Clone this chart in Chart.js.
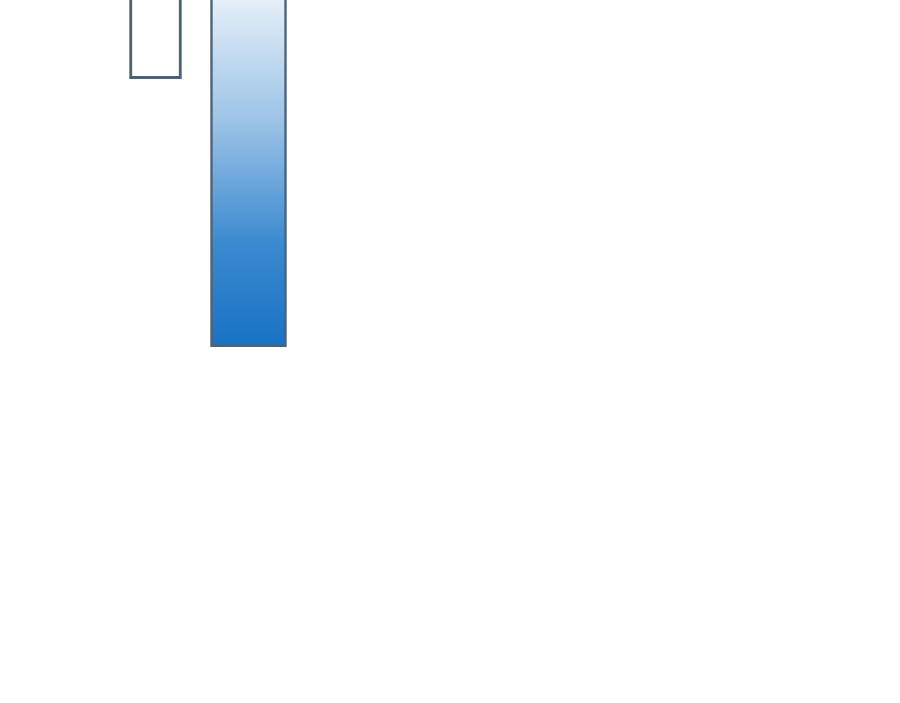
<!DOCTYPE html>
<html lang="en">
<head>
  <meta charset="UTF-8">
  <title>Bars</title>
  <script src="https://cdn.jsdelivr.net/npm/chart.js"></script>
  <style>
    html, body { margin: 0; padding: 0; background: #fff; }
    #wrap { width: 900px; height: 703px; }
  </style>
</head>
<body>
  <div id="wrap"><canvas id="barChart"></canvas></div>
  <script>
    // data (axis runs 0 at the top down to 100 at the bottom)
    const categories = ["A", "B"];
    const outlineValues = [11.2, null];
    const filledValues = [null, 49.3];

    const ctx = document.getElementById('barChart');

    function blueGradient(context) {
      const area = context.chart.chartArea;
      if (!area) return '#1a73c4';
      const g = context.chart.ctx.createLinearGradient(0, 0, 0, 346);
      g.addColorStop(0, '#e4eef8');
      g.addColorStop(0.35, '#9cc3e6');
      g.addColorStop(0.7, '#3c8ad0');
      g.addColorStop(1, '#1872c4');
      return g;
    }

    new Chart(ctx, {
      type: 'bar',
      data: {
        labels: categories,
        datasets: [{
          data: outlineValues,
          backgroundColor: '#ffffff',
          borderColor: '#4b6277',
          borderWidth: 3,
          barThickness: 52
        }, {
          data: filledValues,
          backgroundColor: blueGradient,
          borderColor: '#4b6277',
          borderWidth: 2.5,
          barThickness: 76
        }]
      },
      options: {
        responsive: true,
        maintainAspectRatio: false,
        animation: false,
        layout: { padding: { left: 109, right: 605, top: 0, bottom: 0 } },
        datasets: { bar: { grouped: false } },
        plugins: { legend: { display: false }, tooltip: { enabled: false } },
        scales: {
          x: { display: false },
          y: { display: false, reverse: true, min: 0, max: 100 }
        }
      }
    });
  </script>
</body>
</html>
